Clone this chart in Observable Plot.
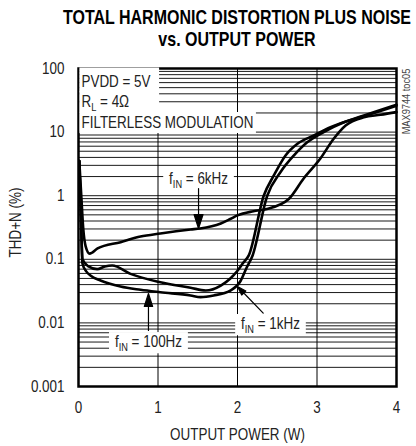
<!DOCTYPE html>
<html><head><meta charset="utf-8">
<script src="https://cdn.jsdelivr.net/npm/d3@7"></script>
<script src="https://cdn.jsdelivr.net/npm/@observablehq/plot@0.6"></script>
<style>
body{margin:0;background:#fff;width:416px;height:446px;overflow:hidden;font-family:"Liberation Sans",Arial,sans-serif;}
#title{height:56px;position:relative;}
#title div{position:absolute;left:0;width:474px;text-align:center;font-weight:bold;font-size:20.5px;line-height:22px;color:#000;white-space:nowrap;transform:scaleX(0.78);transform-origin:237px 50%;}
#t1{top:6px;} #t2{top:28px;}
</style></head>
<body>
<div id="title"><div id="t1"></div><div id="t2"></div></div>
<div id="chart"></div>
<script>
const titleLines = ["TOTAL HARMONIC DISTORTION PLUS NOISE", "vs. OUTPUT POWER"];
const xLabel = "OUTPUT POWER (W)";
const yLabel = "THD+N (%)";
const xTicks = [0, 1, 2, 3, 4];
const yTicks = [0.001, 0.01, 0.1, 1, 10, 100];
const yTickLabels = ["0.001", "0.01", "0.1", "1", "10", "100"];
const decades = [0.001, 0.01, 0.1, 1, 10];
const mantissas = [1, 2, 3, 4, 5, 6, 7, 8, 9];
const gridX = [1, 2, 3];

const power6k = [0.01, 0.035, 0.06, 0.09, 0.14, 0.24, 0.53, 0.78, 1.03, 1.41, 1.53, 1.79, 1.91, 2.0, 2.2, 2.37, 2.645, 2.83, 3.04, 3.21, 3.36, 3.59, 3.8, 4.0];
const thd6k   = [3.5, 1.0, 0.3, 0.16, 0.123, 0.148, 0.186, 0.228, 0.255, 0.294, 0.305, 0.366, 0.43, 0.49, 0.57, 0.62, 0.89, 1.85, 3.8, 7.85, 12.7, 17.1, 18.7, 20.6];
const power1k = [0.01, 0.03, 0.05, 0.12, 0.235, 0.33, 0.424, 0.654, 1.03, 1.41, 1.6, 1.79, 1.91, 2.0, 2.075, 2.142, 2.33, 2.457, 2.604, 2.75, 2.96, 3.17, 3.59, 4.0];
const thd1k   = [3.5, 0.5, 0.10, 0.078, 0.070, 0.077, 0.080, 0.059, 0.0436, 0.0357, 0.0323, 0.0387, 0.05, 0.066, 0.089, 0.115, 1.0, 2.08, 4.3, 6.5, 8.85, 11.9, 18.2, 26.9];
const power100 = [0.01, 0.03, 0.05, 0.1, 0.15, 0.277, 0.528, 0.78, 1.03, 1.41, 1.535, 1.7, 1.91, 2.04, 2.11, 2.19, 2.374, 2.54, 2.71, 2.877, 3.085, 3.34, 3.59, 4.0];
const thd100   = [3.5, 0.5, 0.085, 0.064, 0.0556, 0.0464, 0.0373, 0.0332, 0.0304, 0.027, 0.0254, 0.027, 0.0323, 0.046, 0.0716, 0.115, 1.0, 2.34, 4.3, 6.9, 10, 14.3, 17.8, 26.0];

const noteLines = ["PVDD = 5V", "R_{L} = 4Ω", "FILTERLESS MODULATION"];
const curveLabels = ["f_{IN} = 6kHz", "f_{IN} = 100Hz", "f_{IN} = 1kHz"];
const labelP = [1.51, 0.88, 2.415];
const labelV = [1.86, 0.0051, 0.0098];
const arrowTipP = [1.51, 0.88, 2.0];
const arrowTipV = [0.305, 0.029, 0.0373];
const arrowLen = [40, 37, 37];
const arrowRot = [180, 0, -44];
const arrowHead = [14, 13, 9];
const sideNote = "MAX9744 toc05";

document.getElementById("t1").textContent = titleLines[0];
document.getElementById("t2").textContent = titleLines[1];

const gridY = decades.flatMap(d => mantissas.map(m => +(m * d).toPrecision(3))).concat([100]);
const toRows = (P, V) => P.map((p, i) => ({p, v: V[i]}));
const series = [toRows(power6k, thd6k), toRows(power1k, thd1k), toRows(power100, thd100)];
const labels = curveLabels.map((t, i) => ({t, p: labelP[i], v: labelV[i]}));
const arrows = arrowTipP.map((p, i) => ({p, v: arrowTipV[i], len: arrowLen[i], rot: arrowRot[i], head: arrowHead[i]}));

const headShape = (h) => ({
  draw(ctx, l) {
    const w = h * 0.32;
    ctx.moveTo(0, 0); ctx.lineTo(0, -l + h * 0.5);
    ctx.moveTo(0, -l); ctx.lineTo(-w, -l + h); ctx.lineTo(w, -l + h); ctx.closePath();
  }
});

const font = '"Liberation Sans",Arial,sans-serif';
const noteDy = [13, 33.5, 54];
const SX = 0.84;

const plot = Plot.plot({
  width: 416, height: 390,
  marginTop: 12, marginBottom: 60, marginLeft: 78, marginRight: 20,
  x: {domain: [0, 4]},
  y: {type: "log", domain: [0.001, 100]},
  style: {fontFamily: font, fontSize: "16px", color: "#222", background: "#fff", overflow: "visible"},
  marks: [
    Plot.ruleY(gridY, {stroke: "#000", strokeWidth: 1, strokeOpacity: 0.9}),
    Plot.ruleX(gridX, {stroke: "#000", strokeWidth: 1}),
    ...series.map(s => Plot.line(s, {x: "p", y: "v", stroke: "#000", strokeWidth: 2.6, curve: "monotone-x"})),
    Plot.frame({stroke: "#000", strokeWidth: 2.5}),
    Plot.axisX({ticks: xTicks, tickSize: 0, tickPadding: 15, label: null, fontSize: 16, tickFormat: d => String(d)}),
    Plot.axisY({ticks: yTicks, tickSize: 0, tickPadding: 14, label: null, fontSize: 16, tickFormat: d => yTickLabels[yTicks.indexOf(d)]}),
    Plot.text([xLabel], {frameAnchor: "bottom", dy: 48, lineAnchor: "middle", textAnchor: "middle", fontSize: 16, fill: "#222"}),
    Plot.text([yLabel], {frameAnchor: "left", dx: -63, dy: -5, rotate: -90, lineAnchor: "middle", textAnchor: "middle", fontSize: 16, fill: "#222"}),
    Plot.text([sideNote], {frameAnchor: "top-right", dx: 10, dy: 33, rotate: -90, lineAnchor: "middle", textAnchor: "middle", fontSize: 11, fill: "#444"}),
    ...noteLines.map((t, i) => Plot.text([t], {frameAnchor: "top-left", dx: 3, dy: noteDy[i], lineAnchor: "middle", textAnchor: "start", fontSize: 16, fill: "#222"})),
    Plot.text(labels, {x: "p", y: "v", text: "t", lineAnchor: "middle", textAnchor: "middle", fontSize: 16, fill: "#222"}),
    ...arrows.map(a => Plot.vector([a], {x: "p", y: "v", length: a.len, rotate: a.rot, anchor: "end", shape: headShape(a.head), stroke: "#000", fill: "#000", strokeWidth: 1.2}))
  ]
});
document.getElementById("chart").appendChild(plot);

const NS = "http://www.w3.org/2000/svg";
const allTexts = Array.from(plot.querySelectorAll("text"));
const byContent = new Map();
allTexts.forEach(t => { if (!byContent.has(t.textContent)) byContent.set(t.textContent, t); });
// condensed look: horizontal scale on every text
allTexts.forEach(t => {
  const tr = t.getAttribute("transform") || "";
  t.setAttribute("transform", tr + ` scale(${SX},1)`);
});
// subscripts
allTexts.forEach(t => {
  const s = t.textContent;
  if (!s.includes("_{")) return;
  const parts = s.split(/_\{([^}]*)\}/);
  while (t.firstChild) t.removeChild(t.firstChild);
  parts.forEach((part, i) => {
    const ts = document.createElementNS(NS, "tspan");
    ts.textContent = part;
    if (i % 2 === 1) { ts.setAttribute("dy", "4"); ts.setAttribute("font-size", "11"); }
    else if (i > 0) { ts.setAttribute("dy", "-4"); }
    t.appendChild(ts);
  });
});
function whiteRect(t, x, y, w, h) {
  const r = document.createElementNS(NS, "rect");
  r.setAttribute("x", x); r.setAttribute("y", y);
  r.setAttribute("width", w); r.setAttribute("height", h);
  r.setAttribute("fill", "#fff");
  const tr = t.getAttribute("transform");
  if (tr) r.setAttribute("transform", tr);
  t.parentNode.insertBefore(r, t);
}
curveLabels.forEach(c => {
  const t = byContent.get(c);
  if (!t) return;
  const b = t.getBBox();
  whiteRect(t, b.x - 7, b.y - 0.5, b.width + 14, b.height + 1);
});
const noteTexts = noteLines.map(c => byContent.get(c));
if (noteTexts.every(Boolean)) {
  const nb = noteTexts.map(t => t.getBBox());
  const right01 = Math.max(nb[0].x + nb[0].width, nb[1].x + nb[1].width) + 10;
  noteTexts.forEach((t, i) => {
    const right = i < 2 ? right01 : nb[2].x + nb[2].width + 3;
    const top = i === 0 ? -14 : -10.5;
    whiteRect(t, -2.5, top, right + 2.5, 10.5 - top);
  });
}
</script>
</body></html>
